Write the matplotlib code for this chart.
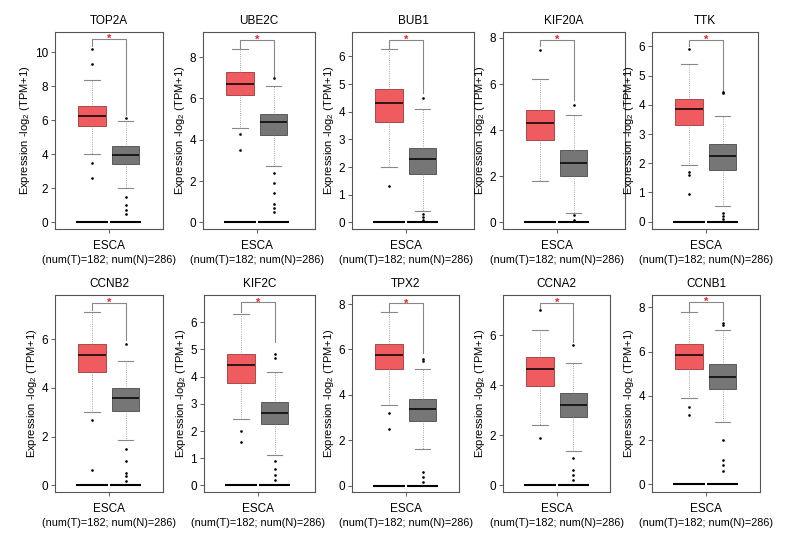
import matplotlib.pyplot as plt
import numpy as np

plt.rcParams['font.family'] = ['Liberation Sans', 'DejaVu Sans']
plt.rcParams['mathtext.fontset'] = 'custom'
plt.rcParams['mathtext.rm'] = 'Liberation Sans'
plt.rcParams['mathtext.it'] = 'Liberation Sans:italic'

genes = ['TOP2A', 'UBE2C', 'BUB1', 'KIF20A', 'TTK',
         'CCNB2', 'KIF2C', 'TPX2', 'CCNA2', 'CCNB1']

# whisker low, q1, median, q3, whisker high
tumor_stats = [
    [4.02, 5.66, 6.25, 6.80, 8.35],
    [4.59, 6.16, 6.70, 7.29, 8.42],
    [1.99, 3.61, 4.30, 4.82, 6.28],
    [1.81, 3.59, 4.30, 4.89, 6.22],
    [1.95, 3.30, 3.84, 4.20, 5.41],
    [3.01, 4.64, 5.34, 5.79, 7.12],
    [2.44, 3.78, 4.41, 4.82, 6.30],
    [3.56, 5.13, 5.74, 6.23, 7.66],
    [2.39, 3.98, 4.63, 5.11, 6.20],
    [3.92, 5.22, 5.86, 6.32, 7.80],
]
normal_stats = [
    [2.00, 3.41, 3.94, 4.45, 5.96],
    [2.75, 4.23, 4.85, 5.27, 6.59],
    [0.42, 1.76, 2.28, 2.70, 4.11],
    [0.41, 2.03, 2.59, 3.13, 4.65],
    [0.55, 1.78, 2.24, 2.67, 3.61],
    [1.85, 3.07, 3.59, 4.00, 5.11],
    [1.13, 2.25, 2.66, 3.08, 4.16],
    [1.60, 2.87, 3.36, 3.81, 5.14],
    [1.35, 2.72, 3.20, 3.68, 4.87],
    [2.83, 4.29, 4.84, 5.44, 6.95],
]
tumor_out = [
    [10.2, 9.3, 3.5, 2.6], [4.3, 3.5], [1.3], [7.5], [5.9, 1.7, 1.6, 0.95],
    [2.7, 0.65], [2.0, 1.6], [3.2, 2.5], [7.0, 1.9], [3.5, 3.15],
]
normal_out = [
    [6.1, 1.5, 1.0, 0.7, 0.5], [7.0, 2.4, 1.9, 1.4, 0.9, 0.7, 0.5],
    [4.5, 0.3, 0.2, 0.1], [5.1, 0.3, 0.1], [4.45, 4.4, 0.3, 0.2, 0.1],
    [5.8, 1.5, 1.0, 0.5, 0.4, 0.2], [4.85, 4.7, 0.9, 0.6, 0.4, 0.2],
    [5.6, 5.5, 0.6, 0.4, 0.15], [5.6, 1.1, 0.6, 0.4, 0.2],
    [7.3, 7.2, 2.0, 1.1, 0.9, 0.6],
]
# bracket: top, left leg end, right leg end
brackets = [
    (10.76, 10.33, 6.30), (8.85, 8.45, 7.08), (6.60, 6.28, 4.67),
    (7.93, 7.64, 5.33), (6.23, 6.00, 4.41), (7.50, 7.19, 5.96),
    (6.73, 6.39, 5.29), (8.03, 7.66, 5.83), (7.30, 7.00, 5.74),
    (8.22, 7.85, 7.43),
]
ylims = [(-0.41, 11.18), (-0.32, 9.22), (-0.24, 6.88), (-0.29, 8.26),
         (-0.25, 6.49), (-0.27, 7.81), (-0.24, 7.00), (-0.28, 8.40),
         (-0.27, 7.60), (-0.34, 8.55)]
ysteps = [2, 2, 1, 2, 1, 2, 1, 2, 2, 2]

# axes rectangles in pixels: left, right, top, bottom
rects = [
    (55, 163, 32, 229), (203, 315, 32, 229), (352, 474, 32, 229),
    (503, 625, 32, 229), (652, 758, 32, 229),
    (55, 163, 295, 492), (204, 315, 295, 492), (352, 459, 295, 492),
    (503, 610, 295, 492), (652, 760, 295, 492),
]

W, H = 792, 540
fig = plt.figure(figsize=(W / 100, H / 100), dpi=100)

px_unit = 33.5   # pixels between the two box centres
offset = 37      # pixels from axes left to tumor centre
bw = 0.83

for i, g in enumerate(genes):
    l, r, t, b = rects[i]
    ax = fig.add_axes([l / W, 1 - b / H, (r - l) / W, (b - t) / H])
    x0 = 1 - offset / px_unit
    ax.set_xlim(x0, x0 + (r - l) / px_unit)
    ax.set_ylim(*ylims[i])

    stats = []
    for s in (tumor_stats[i], normal_stats[i]):
        stats.append(dict(whislo=s[0], q1=s[1], med=s[2], q3=s[3],
                          whishi=s[4], fliers=[]))
    res = ax.bxp(stats, positions=[1, 2], widths=bw, patch_artist=True,
                 showfliers=False,
                 medianprops=dict(color='black', lw=1.1),
                 whiskerprops=dict(color='#888888', lw=0.6, ls=':'),
                 capprops=dict(color='#888888', lw=0.8),
                 boxprops=dict(lw=0.6))
    res['boxes'][0].set_facecolor('#EF5B5F')
    res['boxes'][0].set_edgecolor('#9A3A3C')
    res['boxes'][1].set_facecolor('#767676')
    res['boxes'][1].set_edgecolor('#4A4A4A')
    for c in res['caps']:
        xd = c.get_xdata()
        m = np.mean(xd)
        c.set_xdata([m - bw * 0.27, m + bw * 0.27])

    ax.scatter(np.full(len(tumor_out[i]), 1.0), tumor_out[i], s=0.8,
               color='black', zorder=4)
    ax.scatter(np.full(len(normal_out[i]), 2.0), normal_out[i], s=0.8,
               color='black', zorder=4)

    for pos in (1, 2):
        ax.plot([pos - 0.47, pos + 0.47], [0, 0], color='black', lw=1.5,
                zorder=3, solid_capstyle='butt')

    top, le, re = brackets[i]
    ax.plot([1, 1, 2, 2], [le, top, top, re], color='#888888', lw=0.8)
    ax.text(1.5, top, '*', color='#E8262C', ha='center', va='center',
            fontsize=8, fontweight='bold')

    ymax = ylims[i][1]
    ax.set_yticks(np.arange(0, ymax, ysteps[i]))
    ax.tick_params(axis='y', labelsize=8.5, length=3, width=0.6,
                   color='#444444', pad=2)
    ax.set_xticks([1.5])
    ax.set_xticklabels([''])
    ax.tick_params(axis='x', length=3, width=0.6, color='#444444')
    for sp in ax.spines.values():
        sp.set_color('#555555')
        sp.set_linewidth(0.8)

    ax.set_title(g, fontsize=8.5, pad=6)
    ax.set_ylabel('Expression -log$_2$ (TPM+1)', fontsize=8, labelpad=2)
    cx = (l + offset + px_unit / 2) / W
    fig.text(cx, 1 - (b + 17) / H, 'ESCA', ha='center', va='center',
             fontsize=8.5)
    fig.text(cx, 1 - (b + 31) / H, '(num(T)=182; num(N)=286)',
             ha='center', va='center', fontsize=7.8)

fig.savefig('out.png', dpi=100)
